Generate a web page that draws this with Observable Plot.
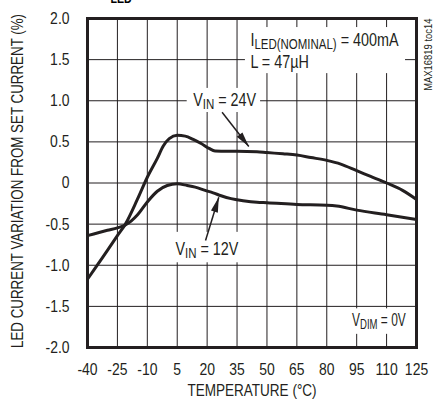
<!DOCTYPE html>
<html><head><meta charset="utf-8">
<script src="https://cdn.jsdelivr.net/npm/d3@7"></script>
<script src="https://cdn.jsdelivr.net/npm/@observablehq/plot@0.6"></script>
<style>
html,body{margin:0;padding:0;background:#fff;}
#chart{position:relative;width:440px;height:407px;overflow:hidden;}
</style></head><body><div id="chart"></div>
<script>
// ---- data ----
const temps24 = [-40,-30,-25,-21,-15,-10,-5,-2,1,5,9,13,17,21,24,30,35,45,50,58,65,72,80,87,95,102,110,118,125];
const vals24  = [-1.17,-0.82,-0.64,-0.50,-0.20,0.07,0.30,0.45,0.54,0.58,0.57,0.53,0.48,0.42,0.39,0.385,0.385,0.38,0.37,0.355,0.34,0.31,0.275,0.23,0.15,0.08,0.0,-0.09,-0.20];
const temps12 = [-40,-30,-25,-21,-18,-15,-10,-5,0,5,10,14,19,23,27,32,38,45,50,65,80,85,95,110,125];
const vals12  = [-0.64,-0.575,-0.545,-0.51,-0.46,-0.39,-0.23,-0.10,-0.03,-0.01,-0.03,-0.05,-0.09,-0.12,-0.155,-0.19,-0.215,-0.235,-0.24,-0.26,-0.27,-0.28,-0.33,-0.385,-0.445];
const xTicks = [-40,-25,-10,5,20,35,50,65,80,95,110,125];
const xTickLabels = ["-40","-25","-10","5","20","35","50","65","80","95","110","125"];
const yTicks = [-2,-1.5,-1,-0.5,0,0.5,1,1.5,2];
const yTickLabels = ["-2.0","-1.5","-1.0","-0.5","0","0.5","1.0","1.5","2.0"];
const xTitle = "TEMPERATURE (°C)";
const yTitle = "LED CURRENT VARIATION FROM SET CURRENT (%)";
const docId = "MAX16819 toc14";
const titleFragment = "LED";
const notes = [
  {x: 41.7, y: 1.733, text: "I_{LED(NOMINAL)} = 400mA"},
  {x: 41.7, y: 1.465, text: "L = 47µH"},
  {x: 13.0, y: 1.0, text: "V_{IN} = 24V"},
  {x: 4.1, y: -0.81, text: "V_{IN} = 12V"},
  {x: 92.7, y: -1.675, text: "V_{DIM} = 0V"}
];
const boxes = [
  {x1: 39.2, x2: 119.5, y1: 1.33, y2: 1.89},
  {x1: 10.0, x2: 46.8, y1: 0.857, y2: 1.15},
  {x1: 2.6, x2: 36.7, y1: -0.97, y2: -0.60},
  {x1: 89.4, x2: 122.0, y1: -1.84, y2: -1.53}
];
const arrows = [
  {x1: 27.5, y1: 0.861, x2: 40.9, y2: 0.444},
  {x1: 19.2, y1: -0.699, x2: 25.85, y2: -0.173}
];

// ---- layout ----
const W = 440, H = 407, mL = 87, mR = 24, mT = 18, mB = 60;
const ink = "#231f20";
const font = '"Liberation Sans", Arial, Helvetica, sans-serif';
const narrow = 0.82;

const d24 = temps24.map((t, i) => ({t, v: vals24[i]}));
const d12 = temps12.map((t, i) => ({t, v: vals12[i]}));

const sx = d3.scaleLinear([-40, 125], [mL, W - mR]);
const sy = d3.scaleLinear([-2, 2], [H - mB, mT]);
arrows.forEach(a => {
  const dx = sx(a.x2) - sx(a.x1), dy = sy(a.y2) - sy(a.y1);
  a.angle = Math.atan2(dx, -dy) * 180 / Math.PI;
});
const head = {draw(ctx) { ctx.moveTo(0, 0); ctx.lineTo(3.6, 15); ctx.lineTo(-3.6, 15); ctx.closePath(); }};

const svg = Plot.plot({
  width: W, height: H,
  marginLeft: mL, marginRight: mR, marginTop: mT, marginBottom: mB,
  style: {fontFamily: font, fontSize: "17px", color: ink, background: "white", overflow: "hidden"},
  x: {domain: [-40, 125], ticks: xTicks, tickFormat: d => xTickLabels[xTicks.indexOf(d)], tickSize: 0, tickPadding: 15, label: null},
  y: {domain: [-2, 2], ticks: yTicks, tickFormat: d => yTickLabels[yTicks.indexOf(d)], tickSize: 0, tickPadding: 18, label: null},
  marks: [
    Plot.ruleX(xTicks, {stroke: ink, strokeWidth: 1}),
    Plot.ruleY(yTicks, {stroke: ink, strokeWidth: 1}),
    Plot.rect(boxes, {x1: "x1", x2: "x2", y1: "y1", y2: "y2", fill: "white"}),
    Plot.line(d24, {x: "t", y: "v", curve: "monotone-x", stroke: ink, strokeWidth: 3}),
    Plot.line(d12, {x: "t", y: "v", curve: "monotone-x", stroke: ink, strokeWidth: 3}),
    Plot.link(arrows, {x1: "x1", y1: "y1", x2: "x2", y2: "y2", stroke: ink, strokeWidth: 1.5}),
    Plot.dot(arrows, {x: "x2", y: "y2", symbol: head, rotate: "angle", fill: ink, stroke: "none"}),
    Plot.text(notes, {x: "x", y: "y", text: "text", textAnchor: "start", lineAnchor: "middle", fontSize: 17.5, fill: ink}),
    Plot.frame({stroke: ink, strokeWidth: 3}),
    Plot.text([docId], {frameAnchor: "top-right", rotate: -90, textAnchor: "end", lineAnchor: "middle", dx: 12, fontSize: 11.5, fill: ink}),
    Plot.text([xTitle], {frameAnchor: "bottom", textAnchor: "middle", lineAnchor: "middle", dy: 43, fontSize: 16.5, fill: ink}),
    Plot.text([yTitle], {frameAnchor: "left", rotate: -90, textAnchor: "middle", lineAnchor: "middle", dx: -70, dy: -2, fontSize: 16.3, fill: ink}),
    Plot.text([titleFragment], {frameAnchor: "top-left", textAnchor: "start", lineAnchor: "middle", dx: 23, dy: -19.5, fontWeight: "bold", fontSize: 13, fill: "#000"})
  ]
});

// subscripts: "_{...}"
d3.select(svg).selectAll("text").each(function() {
  const t = this.textContent;
  if (!t.includes("_{")) return;
  const el = d3.select(this);
  el.text(null);
  const re = /_\{([^}]*)\}/g;
  let last = 0, m, shifted = false;
  while ((m = re.exec(t))) {
    if (m.index > last) { el.append("tspan").attr("dy", shifted ? -3 : null).text(t.slice(last, m.index)); shifted = false; }
    el.append("tspan").attr("dy", 3).attr("font-size", 14).text(m[1]);
    shifted = true;
    last = m.index + m[0].length;
  }
  if (last < t.length) el.append("tspan").attr("dy", shifted ? -3 : null).text(t.slice(last));
});

document.getElementById("chart").appendChild(svg);

// condense every text to mimic a narrow grotesque face
const svgBox = svg.getBoundingClientRect();
const innerRight = W - mR - 10;
d3.select(svg).selectAll("text").each(function() {
  const len = this.getComputedTextLength();
  if (len <= 0) return;
  let target = len * narrow;
  this.setAttribute("textLength", target.toFixed(2));
  this.setAttribute("lengthAdjust", "spacingAndGlyphs");
  // keep annotations inside the frame
  const r = this.getBoundingClientRect();
  const left = r.left - svgBox.left, right = r.right - svgBox.left;
  const top = r.top - svgBox.top, bottom = r.bottom - svgBox.top;
  if (left > mL && left < W - mR && top > mT && bottom < H - mB && right > innerRight) {
    target -= (right - innerRight);
    this.setAttribute("textLength", target.toFixed(2));
  }
});
</script>
</body></html>
